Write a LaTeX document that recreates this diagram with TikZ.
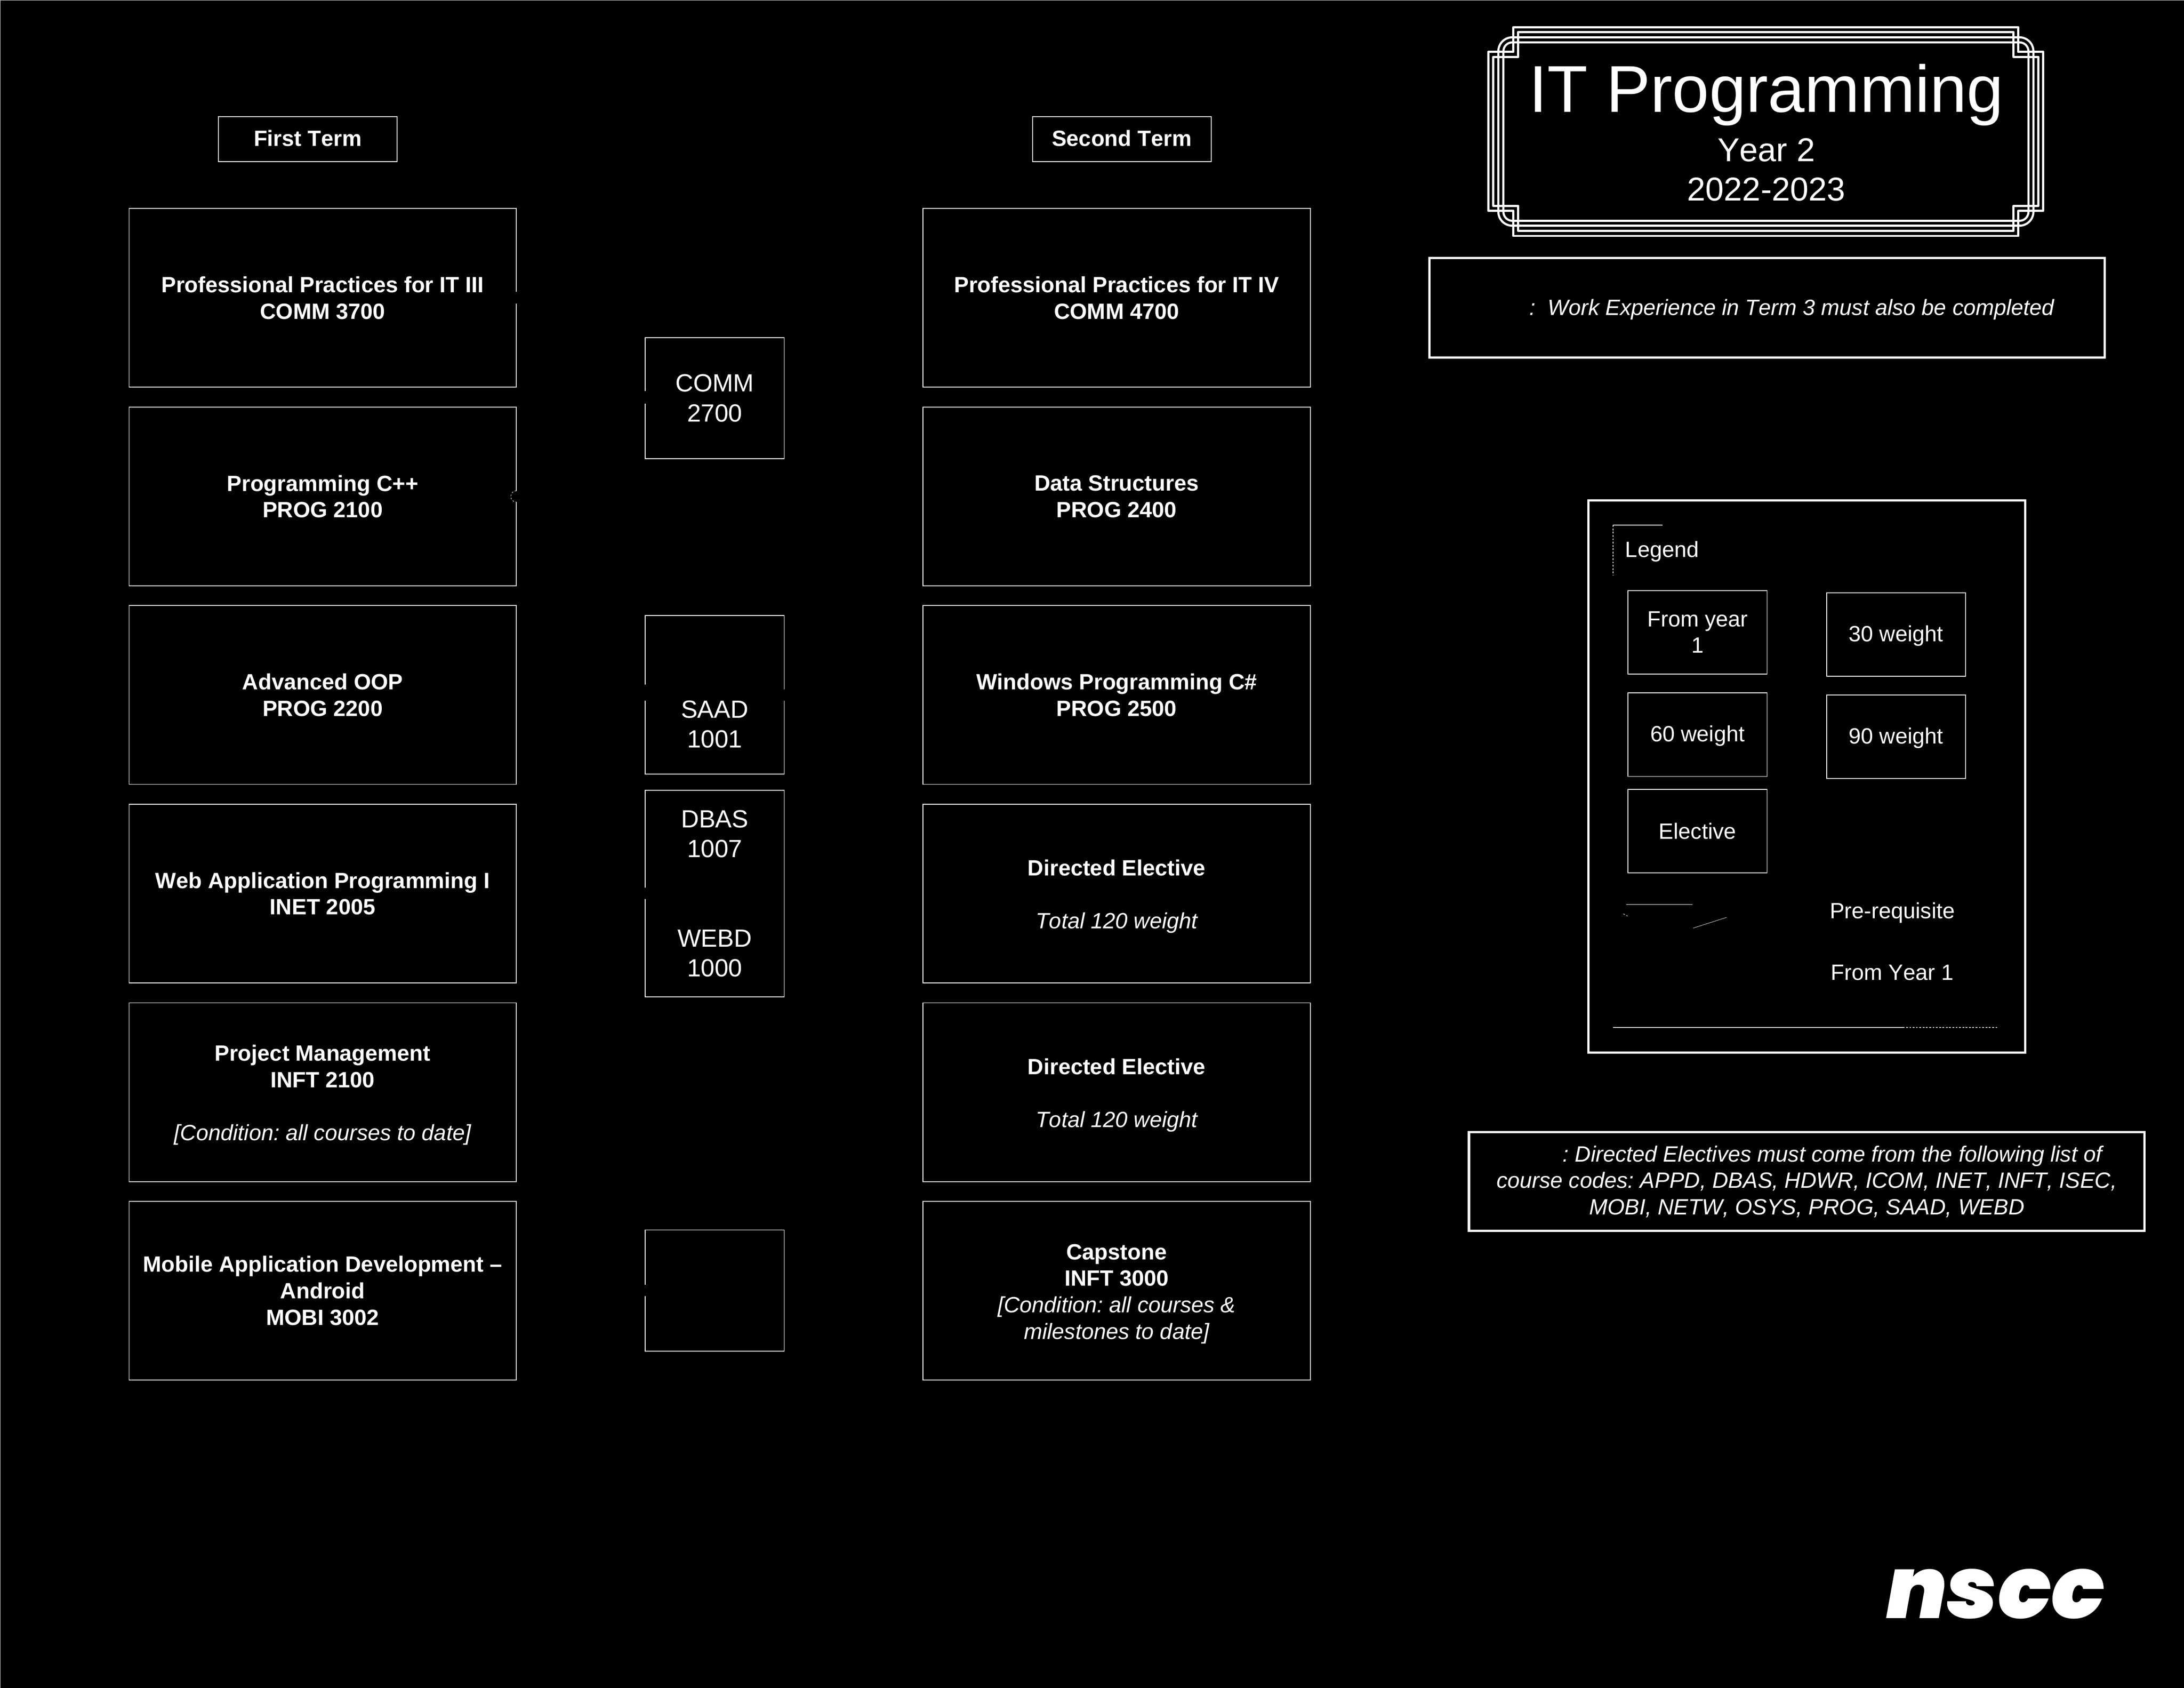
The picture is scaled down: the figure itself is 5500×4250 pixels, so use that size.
\documentclass[tikz,border=0pt]{standalone}
\usepackage{fontspec}
\usepackage{graphicx}
\setmainfont{Liberation Sans}[Kerning=Off]
\newfontfamily\logofont{Poppins Black Italic}
\definecolor{edge}{gray}{0.85}
\frenchspacing
\tikzset{
  cbox/.style={draw=white,line width=0.3pt,inner sep=0pt,outer sep=0pt,text=white,align=center},
  course/.style={cbox,minimum width=140.4pt,minimum height=64.8pt,font=\fontsize{8}{9.6}\selectfont\bfseries},
  term/.style={cbox,minimum width=64.8pt,minimum height=16.3pt,text depth=0.7pt,font=\fontsize{8}{9.6}\selectfont\bfseries},
  yearone/.style={cbox,minimum width=50.4pt,font=\fontsize{9}{10.8}\selectfont},
  leg/.style={cbox,minimum width=50.4pt,minimum height=30.3pt,font=\fontsize{8}{9.6}\selectfont},
  heavy/.style={draw=white,line width=0.8pt,inner sep=0pt,outer sep=0pt,text=white,align=center},
  plain/.style={text=white,inner sep=0pt,outer sep=0pt},
  framing/.style={draw=white,line width=0.76pt,line join=round},
  mask/.style={draw=black,line width=0.7pt},
  faint/.style={draw=white,line width=0.12pt},
  dots/.style={draw=white,line width=0.15pt,dash pattern=on 0.6pt off 0.6pt}
}
\newcommand{\itnote}[1]{{\mdseries\itshape #1}}
\newcommand{\lowerit}{\rule{0pt}{7.9pt}}
\begin{document}
\begin{tikzpicture}[x=0.144pt,y=-0.144pt]
\useasboundingbox (0,0) rectangle (5500,4250);
\fill[black] (0,0) rectangle (5500,4250);
\draw[edge,line width=0.15pt] (0.5,4250) -- (0.5,0.5) -- (5500,0.5);

% term headers
\node[term] (first) at (775,350.5) {First Term};
\node[term] (second) at (2825,350.5) {Second Term};

% first term
\node[course] (c3700) at (812.5,750) {Professional Practices for IT III\\COMM 3700};
\node[course] (p2100) at (812.5,1250) {Programming C++\\PROG 2100};
\node[course] (p2200) at (812.5,1750) {Advanced OOP\\PROG 2200};
\node[course] (i2005) at (812.5,2250) {Web Application Programming I\\INET 2005};
\node[course] (i2100) at (812.5,2750) {\lowerit Project Management\\INFT 2100\\\mbox{}\\\itnote{[Condition: all courses to date]}};
\node[course] (m3002) at (812.5,3250) {Mobile Application Development --\\Android\\MOBI 3002};

% second term
\node[course] (c4700) at (2812,750) {Professional Practices for IT IV\\COMM 4700};
\node[course] (p2400) at (2812,1250) {Data Structures\\PROG 2400};
\node[course] (p2500) at (2812,1750) {Windows Programming C\#\\PROG 2500};
\node[course] (de1) at (2812,2250) {\lowerit Directed Elective\\\mbox{}\\\itnote{Total 120 weight}};
\node[course] (de2) at (2812,2750) {\lowerit Directed Elective\\\mbox{}\\\itnote{Total 120 weight}};
\node[course] (cap) at (2812,3250) {\lowerit Capstone\\INFT 3000\\\itnote{[Condition: all courses \&}\\\itnote{milestones to date]}};

% year-one courses
\node[yearone,minimum height=43.9pt] (c2700) at (1800,1002.6) {COMM\\2700};
\node[yearone,minimum height=57.5pt] (s1001) at (1800,1750) {\rule{0pt}{6pt}\\\mbox{}\\SAAD\\1001};
\node[yearone,minimum height=74.9pt] (dw) at (1800,2250) {DBAS\\1007\\\mbox{}\\\mbox{}\\WEBD\\1000};
\node[yearone,minimum height=43.9pt] (blank) at (1800,3249.5) {};

% gaps left in the box edges
\coordinate (g1a) at (1300,735); \coordinate (g1b) at (1300,764);
\coordinate (g2a) at (1300,1236); \coordinate (g2b) at (1300,1264);
\coordinate (g3a) at (1625,984); \coordinate (g3b) at (1625,1016);
\coordinate (g4a) at (1625,1724); \coordinate (g4b) at (1625,1764);
\coordinate (g5a) at (1975.5,1736); \coordinate (g5b) at (1975.5,1764);
\coordinate (g6a) at (1625,2235); \coordinate (g6b) at (1625,2264);
\coordinate (g7a) at (1625,3235); \coordinate (g7b) at (1625,3264);
\draw[mask] (g1a) -- (g1b);
\draw[mask] (g2a) -- (g2b);
\draw[mask] (g3a) -- (g3b);
\draw[mask] (g4a) -- (g4b);
\draw[mask] (g5a) -- (g5b);
\draw[mask] (g6a) -- (g6b);
\draw[mask] (g7a) -- (g7b);
\draw[dots] (g2a) .. controls (1282,1236) and (1282,1264) .. (g2b);

% title frame
\draw[framing] (3810.7,68.7) -- (5082.7,68.7) -- (5082.7,130.7) -- (5145.3,130.7) -- (5145.3,530.7) -- (5082.7,530.7) -- (5082.7,594) -- (3810.7,594) -- (3810.7,530.7) -- (3748,530.7) -- (3748,130.7) -- (3810.7,130.7) -- cycle;
\draw[framing] (3823.3,80.7) -- (5070.7,80.7) -- (5070.7,143.3) -- (5133.3,143.3) -- (5133.3,518.3) -- (5070.7,518.3) -- (5070.7,581) -- (3823.3,581) -- (3823.3,518.3) -- (3760.7,518.3) -- (3760.7,143.3) -- (3823.3,143.3) -- cycle;
\draw[framing,rounded corners=5.04pt] (3773.3,94) rectangle (5120.7,568.3);
\draw[framing,rounded corners=3.24pt] (3786,106.7) rectangle (5108.3,556);

\node[plain,anchor=base,font=\fontsize{24}{28}\selectfont] (title) at (4448,282) {IT Programming};
\node[plain,anchor=base,font=\fontsize{12}{14.4}\selectfont] (year) at (4448,406) {Year 2};
\node[plain,anchor=base,font=\fontsize{12}{14.4}\selectfont] (dates) at (4448,506) {2022-2023};

% work experience note
\node[heavy,minimum width=244.8pt,minimum height=36.1pt] (worknote) at (4450,774.5) {};
\node[plain,anchor=base west,font=\fontsize{8}{9.6}\selectfont\itshape] (worktext) at (3852,794) {:\ \ Work Experience in Term 3 must also be completed};

% legend
\node[heavy,minimum width=158.4pt,minimum height=200.2pt] (legend) at (4550,1955) {};
\coordinate (la) at (4187,1322.5); \coordinate (lb) at (4062.5,1322.5); \coordinate (lc) at (4062.5,1449);
\draw[draw=white,line width=0.25pt] (la) -- (lb);
\draw[dots,line width=0.25pt] (lb) -- (lc);
\node[plain,anchor=base west,font=\fontsize{8}{9.6}\selectfont] (legtitle) at (4093,1403) {Legend};
\node[leg] (l1) at (4275,1592) {From year\\1};
\node[leg,text depth=0.7pt] (l60) at (4275,1850) {60 weight};
\node[leg] (lel) at (4275,2093) {Elective};
\node[leg,text depth=0.7pt] (l30) at (4775,1597.5) {30 weight};
\node[leg,text depth=0.7pt] (l90) at (4775,1855) {90 weight};
\coordinate (m1) at (4095,2277); \coordinate (m2) at (4262,2277);
\coordinate (m3) at (4264,2337); \coordinate (m4) at (4348,2310);
\coordinate (m5) at (4088,2301); \coordinate (m6) at (4099,2307);
\draw[faint] (m1) -- (m2);
\draw[faint] (m3) -- (m4);
\draw[dots] (m5) -- (m6);
\node[plain,anchor=base west,font=\fontsize{8}{9.6}\selectfont] (pre) at (4608,2313) {Pre-requisite};
\node[plain,anchor=base west,font=\fontsize{8}{9.6}\selectfont] (fy1) at (4611,2468) {From Year 1};
\coordinate (b1) at (4062,2587); \coordinate (b2) at (4792,2587); \coordinate (b3) at (5033,2587);
\draw[draw=white,line width=0.4pt] (b1) -- (b2);
\draw[dots,line width=0.4pt] (b2) -- (b3);

% directed electives note
\node[heavy,minimum width=245pt,minimum height=35.9pt,font=\fontsize{8}{9.6}\selectfont\itshape] (electnote) at (4550,2975)
 {\hspace*{18.6pt}: Directed Electives must come from the following list of\\course codes: APPD, DBAS, HDWR, ICOM, INET, INFT, ISEC,\\MOBI, NETW, OSYS, PROG, SAAD, WEBD};

% logo
\node[plain] (logo) at (5025,4013) {\resizebox{79.2pt}{17.9pt}{\logofont nscc}};
\end{tikzpicture}
\end{document}
